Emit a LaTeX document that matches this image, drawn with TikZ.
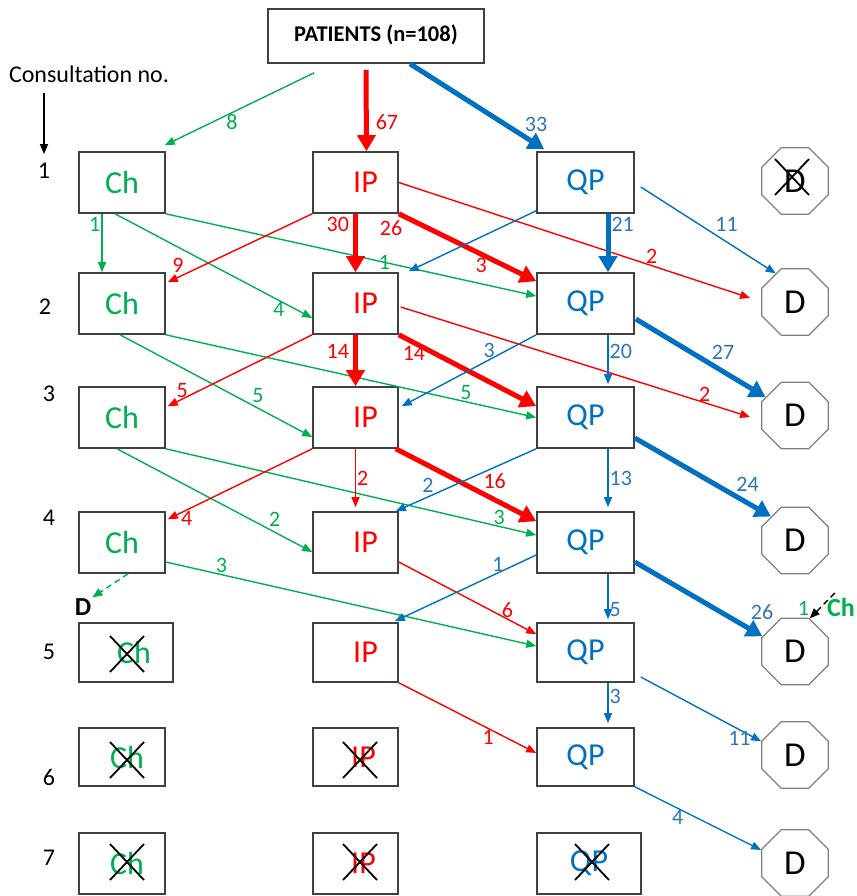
\documentclass[tikz,border=0pt]{standalone}
\usepackage{fontspec}
\setmainfont{Carlito}
\usetikzlibrary{arrows.meta,shapes.geometric}

\definecolor{chgreen}{HTML}{00B050}
\definecolor{ipred}{HTML}{FF0000}
\definecolor{qpblue}{HTML}{0070C0}
\definecolor{qplbl}{HTML}{2E75B6}

\newcommand{\boxfont}{\fontsize{32pt}{36pt}\selectfont}
\newcommand{\dfont}{\fontsize{35pt}{38pt}\selectfont}
\newcommand{\lblfont}{\fontsize{22pt}{26pt}\selectfont}
\newcommand{\numfont}{\fontsize{24pt}{28pt}\selectfont}
\newcommand{\outfont}{\fontsize{26pt}{30pt}\selectfont\bfseries}
% --- a black X over a crossed-out box
\newcommand{\xover}[1]{\draw[xmark] (#1) ++(-17,-18) -- ++(34,36) ++(0,-36) -- ++(-34,36);}

\tikzset{
  box/.style={draw=black!75, line width=1.6pt, minimum width=86pt, minimum height=61pt, inner sep=0pt, font=\boxfont},
  dnode/.style={draw=black!50, line width=1.3pt, regular polygon, regular polygon sides=8, minimum size=72pt, inner sep=0pt, font=\dfont},
  flow/.style={line width=1.4pt, -{Triangle[length=10pt,width=8pt]}},
  bigflow/.style={line width=5pt, -{Triangle[length=16pt,width=18pt]}},
  lbl/.style={font=\lblfont, inner sep=1pt},
  qpc/.style={color=qpblue, text=qplbl},
  xmark/.style={line width=1.8pt, black}
}

\begin{document}
\begin{tikzpicture}[x=1pt,y=-1pt] %---- patient flow per consultation
\useasboundingbox (0,0) rectangle (856,896);

%---- top box and consultation numbers
\node[box, minimum width=216pt, minimum height=54pt, font=\fontsize{22.5pt}{26pt}\selectfont\bfseries] (pat) at (376,36) {\raisebox{5pt}{PATIENTS (n=108)}};
\node[font=\numfont, inner sep=1pt] (consult) at (89,74) {Consultation no.};
\foreach \n/\x/\y in {1/44/171, 2/45/307, 3/49/394, 4/49/518, 5/49/652, 6/49/777, 7/49/858}
  \node[font=\numfont, inner sep=1pt] (num\n) at (\x,\y) {\n};
\coordinate (arrtop) at (consult.south -| num1);
\draw[flow, black] ([yshift=-9pt]arrtop) -- ([yshift=8pt]num1.north);

%---- boxes
\foreach \r/\y in {1/182.5, 2/303.5, 3/417.5, 4/542.5}{
  \node[box, text=chgreen] (ch\r) at (122,\y) {Ch};
  \node[box, text=ipred, minimum width=85pt] (ip\r) at (355.5,\y) {\hspace*{20pt}IP};
  \node[box, text=qpblue, minimum width=97pt] (qp\r) at (585.5,\y) {QP};
}
\node[box, text=chgreen, minimum width=94pt, minimum height=59pt] (ch5) at (126,652.5) {\hspace*{16pt}Ch};
\node[box, text=ipred, minimum width=85pt, minimum height=59pt] (ip5) at (355.5,652.5) {\hspace*{20pt}IP};
\node[box, text=qpblue, minimum width=97pt, minimum height=59pt] (qp5) at (585.5,652.5) {QP};
\node[box, text=chgreen, minimum height=58pt] (ch6) at (122,757) {\hspace*{10pt}Ch};
\node[box, text=ipred, minimum width=85pt, minimum height=58pt] (ip6) at (355.5,757) {\hspace*{16pt}IP};
\node[box, text=qpblue, minimum width=97pt, minimum height=58pt] (qp6) at (585.5,757) {QP};
\node[box, text=chgreen] (ch7) at (122,863.5) {\hspace*{10pt}Ch};
\node[box, text=ipred, minimum width=85pt] (ip7) at (355.5,863.5) {\hspace*{16pt}IP};
\node[box, text=qpblue, minimum width=104pt] (qp7) at (589,863.5) {QP};
\foreach \r/\y in {1/181, 2/302, 3/415.5, 4/540.5, 5/651.5, 6/755, 7/863}
  \node[dnode] (d\r) at (795,\y) {D};
\node[font=\outfont, inner sep=1pt] (dout) at (83,607) {D};
\node[font=\outfont, text=chgreen, inner sep=0pt, anchor=east] (chin) at (855,607) {Ch};

%---- from patients
\draw[flow, chgreen] ([shift={(47,9)}]pat.south west) -- node[lbl, pos=0.55, below] {8} ([shift={(-1,-6)}]ch1.north east);
\draw[bigflow, ipred] ([shift={(-10,6)}]pat.south) -- node[lbl, pos=0.64, right=6pt] {67} ([xshift=11pt]ip1.north);
\draw[bigflow, qpc] ([xshift=34pt]pat.south) -- node[lbl, pos=0.83, above right] {33} ([shift={(8,-2)}]qp1.north west);

%---- consultation 1
\draw[flow, chgreen] ([xshift=-20pt]ch1.south) -- node[lbl, pos=0.18, left] {1} ([xshift=-20pt]ch2.north);
\draw[flow, chgreen] ([xshift=-7pt]ch1.south) -- node[lbl, pos=0.83, below] {4} ([shift={(0,14.5)}]ip2.west);
\draw[flow, chgreen] (ch1.south east) -- node[lbl, pos=0.59] {1} ([shift={(0,-7.5)}]qp2.west);
\draw[flow, ipred] (ip1.east) -- node[lbl, pos=0.72, above] {2} ([shift={(-11,-4)}]d2.west);
\draw[flow, ipred] (ip1.south west) -- node[lbl, pos=0.88, above left] {9} ([shift={(2,10)}]ch2.north east);
\draw[bigflow, ipred] (ip1.south) -- node[lbl, pos=0.18, left=3pt] {30} (ip2.north);
\draw[bigflow, ipred] (ip1.south east) -- node[lbl, pos=0.05, below left] {26} node[lbl, pos=0.6, below] {3} ([shift={(0,9)}]qp2.north west);
\draw[flow, qpc] ([shift={(0,-3)}]qp1.south west) -- ([shift={(10,-1)}]ip2.north east);
\draw[bigflow, qpc] ([xshift=22.5pt]qp1.south) -- node[lbl, pos=0.18, right] {21} ([xshift=22.5pt]qp2.north);
\draw[flow, qpc] ([shift={(6,4.5)}]qp1.east) -- node[lbl, pos=0.54, above right] {11} (d2.124);

%---- consultation 2
\draw[flow, chgreen] ([xshift=-2pt]ch2.south) -- node[lbl, pos=0.68, above right] {5} ([shift={(0,19.5)}]ip3.west);
\draw[flow, chgreen] (ch2.south east) -- node[lbl, pos=0.81, above] {5} (qp3.west);
\draw[flow, ipred] (ip2.south west) -- node[lbl, pos=0.9, above] {5} ([shift={(2,20)}]ch3.north east);
\draw[bigflow, ipred] (ip2.south) -- node[lbl, pos=0.32, left=3pt] {14} (ip3.north);
\draw[bigflow, ipred] (ip2.south east) -- node[lbl, pos=0.11, below] {14} ([shift={(0,20)}]qp3.north west);
\draw[flow, ipred] ([shift={(2,3.5)}]ip2.east) -- node[lbl, pos=0.87, above] {2} ([shift={(-11,1.5)}]d3.west);
\draw[flow, qpc] (qp2.south west) -- node[lbl, pos=0.35, above] {3} ([shift={(3,20)}]ip3.north east);
\draw[flow, qpc] ([xshift=22.5pt]qp2.south) -- node[lbl, pos=0.33, right] {20} ([shift={(22.5,-2)}]qp3.north);
\draw[bigflow, qpc] ([shift={(1,15.5)}]qp2.east) -- node[lbl, pos=0.56, above right] {27} (d3.148);

%---- consultation 3
\draw[flow, chgreen] ([xshift=-5pt]ch3.south) -- node[lbl, pos=0.77, above right] {2} ([shift={(0,9.5)}]ip4.west);
\draw[flow, chgreen] (ch3.south east) -- node[lbl, pos=0.9, above] {3} ([shift={(0,-7.5)}]qp4.west);
\draw[flow, ipred] (ip3.south west) -- node[lbl, pos=0.87, below] {4} ([shift={(2,8)}]ch4.north east);
\draw[flow, ipred] (ip3.south) -- node[lbl, pos=0.5, right] {2} ([shift={(0,-4)}]ip4.north);
\draw[bigflow, ipred] ([xshift=-3pt]ip3.south east) -- node[lbl, pos=0.6, above right] {16} ([shift={(0,10)}]qp4.north west);
\draw[flow, qpc] (qp3.south west) -- node[lbl, pos=0.72, above left] {2} ([xshift=-3pt]ip4.north east);
\draw[flow, qpc] ([xshift=22.5pt]qp3.south) -- node[lbl, pos=0.5, right] {13} ([shift={(22.5,-4)}]qp4.north);
\draw[bigflow, qpc] ([shift={(0,20.5)}]qp3.east) -- node[lbl, pos=0.72, above right] {24} (d4.135);

%---- consultation 4
\draw[flow, chgreen, dash pattern=on 6pt off 4pt] ([xshift=6pt]ch4.south) -- (dout.north east);
\draw[flow, chgreen] ([shift={(0,19.5)}]ch4.east) -- node[lbl, pos=0.15, above] {3} ([shift={(0,-6.5)}]qp5.west);
\draw[flow, ipred] ([shift={(0,19.5)}]ip4.east) -- node[lbl, pos=0.79, above] {6} ([shift={(0,12)}]qp5.north west);
\draw[flow, qpc] ([shift={(0,12.5)}]qp4.west) -- node[lbl, pos=0.27, above] {1} ([shift={(-4,-1)}]ip5.north east);
\draw[flow, qpc] ([xshift=22.5pt]qp4.south) -- node[lbl, pos=0.78, right] {5} ([shift={(22.5,-3)}]qp5.north);
\draw[bigflow, qpc] ([shift={(0,19.5)}]qp4.east) -- node[lbl, pos=0.86, above right=3pt] {26} (d5.155);
\draw[flow, black, dash pattern=on 6pt off 4pt] ([shift={(8,-14)}]chin.west) -- node[lbl, text=chgreen, pos=0.6, left=9pt] {1} (d5.66);

%---- consultations 5 and 6
\draw[flow, ipred] (ip5.south east) -- node[lbl, pos=0.65, below] {1} ([shift={(0,-4)}]qp6.west);
\draw[flow, qpc] ([xshift=22.5pt]qp5.south) -- node[lbl, pos=0.33, right] {3} ([shift={(22.5,-4)}]qp6.north);
\draw[flow, qpc] ([shift={(6,24.5)}]qp5.east) -- node[lbl, pos=0.82, below] {11} (d6.158);
\draw[flow, qpc] (qp6.south east) -- node[lbl, pos=0.34, below] {4} (d7.159);

%---- crossed out
\xover{[shift={(1,1.5)}]ch5.center}
\xover{[shift={(5,3)}]ch6.center}
\xover{[shift={(5,-1.5)}]ch7.center}
\xover{[shift={(4.5,3)}]ip6.center}
\xover{[shift={(4.5,-1.5)}]ip7.center}
\xover{[shift={(3,-1.5)}]qp7.center}
\xover{[shift={(-3,-4)}]d1.center}
\end{tikzpicture}
\end{document}
